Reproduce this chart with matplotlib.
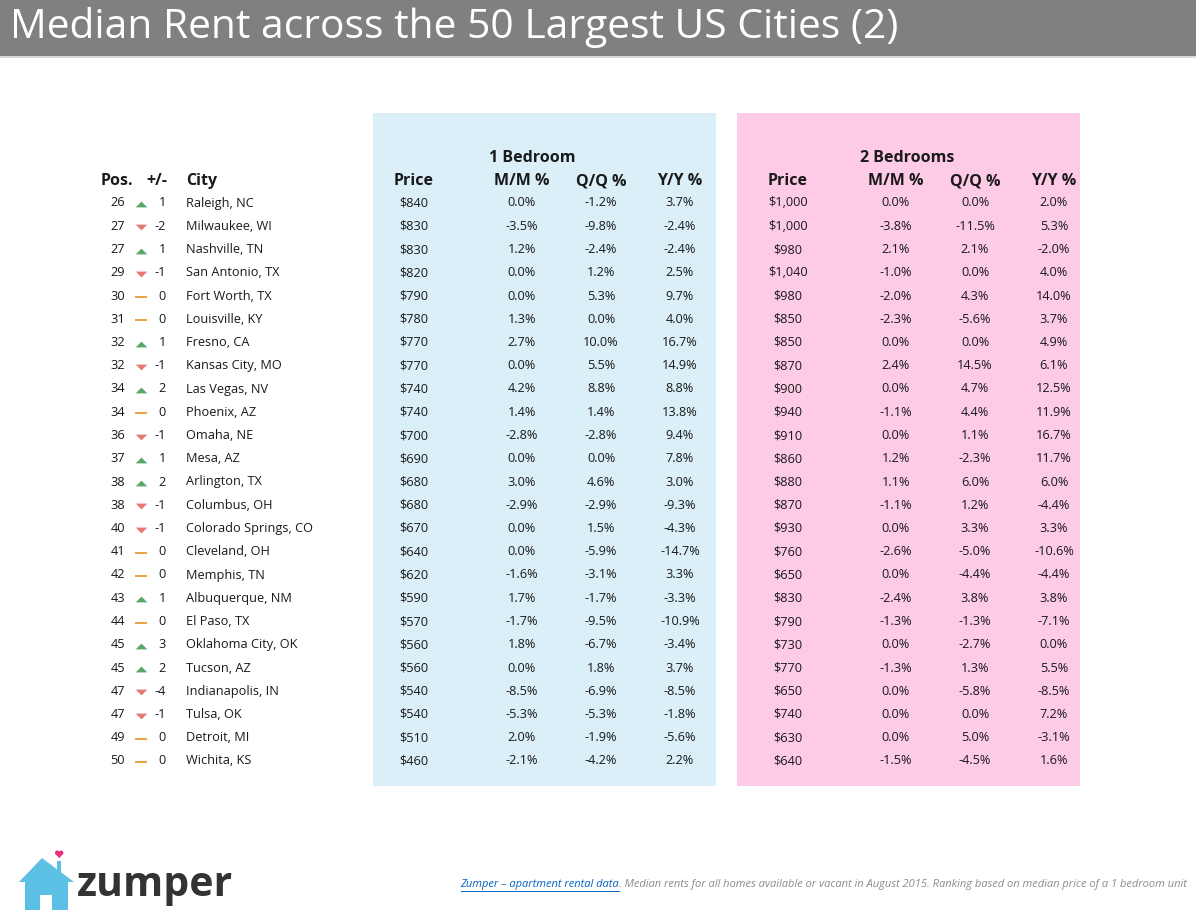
import numpy as np
import matplotlib.pyplot as plt
from matplotlib.patches import Rectangle, Polygon, Circle

plt.rcParams['font.family'] = ['Open Sans', 'DejaVu Sans']

pos = [26, 27, 27, 29, 30, 31, 32, 32, 34, 34, 36, 37, 38, 38, 40, 41, 42, 43, 44, 45, 45, 47, 47, 49, 50]
change = [1, -2, 1, -1, 0, 0, 1, -1, 2, 0, -1, 1, 2, -1, -1, 0, 0, 1, 0, 3, 2, -4, -1, 0, 0]
cities = ['Raleigh, NC', 'Milwaukee, WI', 'Nashville, TN', 'San Antonio, TX', 'Fort Worth, TX',
          'Louisville, KY', 'Fresno, CA', 'Kansas City, MO', 'Las Vegas, NV', 'Phoenix, AZ',
          'Omaha, NE', 'Mesa, AZ', 'Arlington, TX', 'Columbus, OH', 'Colorado Springs, CO',
          'Cleveland, OH', 'Memphis, TN', 'Albuquerque, NM', 'El Paso, TX', 'Oklahoma City, OK',
          'Tucson, AZ', 'Indianapolis, IN', 'Tulsa, OK', 'Detroit, MI', 'Wichita, KS']

price1 = [840, 830, 830, 820, 790, 780, 770, 770, 740, 740, 700, 690, 680, 680, 670, 640, 620, 590, 570, 560, 560, 540, 540, 510, 460]
mm1 = [0.0, -3.5, 1.2, 0.0, 0.0, 1.3, 2.7, 0.0, 4.2, 1.4, -2.8, 0.0, 3.0, -2.9, 0.0, 0.0, -1.6, 1.7, -1.7, 1.8, 0.0, -8.5, -5.3, 2.0, -2.1]
qq1 = [-1.2, -9.8, -2.4, 1.2, 5.3, 0.0, 10.0, 5.5, 8.8, 1.4, -2.8, 0.0, 4.6, -2.9, 1.5, -5.9, -3.1, -1.7, -9.5, -6.7, 1.8, -6.9, -5.3, -1.9, -4.2]
yy1 = [3.7, -2.4, -2.4, 2.5, 9.7, 4.0, 16.7, 14.9, 8.8, 13.8, 9.4, 7.8, 3.0, -9.3, -4.3, -14.7, 3.3, -3.3, -10.9, -3.4, 3.7, -8.5, -1.8, -5.6, 2.2]

price2 = [1000, 1000, 980, 1040, 980, 850, 850, 870, 900, 940, 910, 860, 880, 870, 930, 760, 650, 830, 790, 730, 770, 650, 740, 630, 640]
mm2 = [0.0, -3.8, 2.1, -1.0, -2.0, -2.3, 0.0, 2.4, 0.0, -1.1, 0.0, 1.2, 1.1, -1.1, 0.0, -2.6, 0.0, -2.4, -1.3, 0.0, -1.3, 0.0, 0.0, 0.0, -1.5]
qq2 = [0.0, -11.5, 2.1, 0.0, 4.3, -5.6, 0.0, 14.5, 4.7, 4.4, 1.1, -2.3, 6.0, 1.2, 3.3, -5.0, -4.4, 3.8, -1.3, -2.7, 1.3, -5.8, 0.0, 5.0, -4.5]
yy2 = [2.0, 5.3, -2.0, 4.0, 14.0, 3.7, 4.9, 6.1, 12.5, 11.9, 16.7, 11.7, 6.0, -4.4, 3.3, -10.6, -4.4, 3.8, -7.1, 0.0, 5.5, -8.5, 7.2, -3.1, 1.6]

W, H = 1196, 924
fig = plt.figure(figsize=(W / 100, H / 100), dpi=100)
ax = fig.add_axes([0, 0, 1, 1])
ax.set_xlim(0, W)
ax.set_ylim(H, 0)
ax.axis('off')

# title bar
ax.add_patch(Rectangle((0, 0), W, 56, color='#808080', lw=0))
ax.add_patch(Rectangle((0, 56), W, 2, color='#d9d9d9', lw=0))
ax.text(10, 27, 'Median Rent across the 50 Largest US Cities (2)', color='white',
        fontsize=29.3, va='center', ha='left')

# panels
ax.add_patch(Rectangle((373, 113), 343, 673, color='#daeff7', lw=0))
ax.add_patch(Rectangle((737, 113), 343, 673, color='#fdcbe6', lw=0))

row0, dy = 203, 23.25
rows = row0 + dy * np.arange(len(cities))
hdr_y = 181
txt = dict(fontsize=9.2, va='center', color='#1a1a1a')
hdr = dict(fontsize=11.5, va='center', fontweight='bold', color='#1a1a1a')

ax.text(133, hdr_y, 'Pos.', ha='right', **hdr)
ax.text(167, hdr_y, '+/-', ha='right', **hdr)
ax.text(186, hdr_y, 'City', ha='left', **hdr)

ax.text(532, 158, '1 Bedroom', ha='center', **hdr)
ax.text(907, 158, '2 Bedrooms', ha='center', **hdr)

cols1 = [414, 522, 601, 680]
cols2 = [788, 896, 975, 1054]
heads = ['Price', 'M/M %', 'Q/Q %', 'Y/Y %']
for cx1, cx2, h in zip(cols1, cols2, heads):
    ax.text(cx1, hdr_y, h, ha='center', **hdr)
    ax.text(cx2, hdr_y, h, ha='center', **hdr)

for i, y in enumerate(rows):
    ax.text(125, y, str(pos[i]), ha='right', **txt)
    ax.text(166, y, str(change[i]), ha='right', **txt)
    ax.text(186, y, cities[i], ha='left', **txt)
    vals1 = [f'${price1[i]:,}', f'{mm1[i]:.1f}%', f'{qq1[i]:.1f}%', f'{yy1[i]:.1f}%']
    vals2 = [f'${price2[i]:,}', f'{mm2[i]:.1f}%', f'{qq2[i]:.1f}%', f'{yy2[i]:.1f}%']
    for cx, v in zip(cols1, vals1):
        ax.text(cx, y, v, ha='center', **txt)
    for cx, v in zip(cols2, vals2):
        ax.text(cx, y, v, ha='center', **txt)

# change indicators
chg = np.array(change)
up, down, flat = chg > 0, chg < 0, chg == 0
tri_up = [(-1, -0.5), (1, -0.5), (0, 0.5)]
tri_dn = [(-1, 0.5), (1, 0.5), (0, -0.5)]
bar = [(-1, -0.15), (1, -0.15), (1, 0.15), (-1, 0.15)]
ax.scatter(np.full(up.sum(), 141), rows[up] + 1, marker=tri_up, s=70, color='#5aa865', lw=0)
ax.scatter(np.full(down.sum(), 141), rows[down] + 1, marker=tri_dn, s=70, color='#e57a72', lw=0)
ax.scatter(np.full(flat.sum(), 141), rows[flat] + 1, marker=bar, s=70, color='#e8a545', lw=0)

# logo
house = [(19, 882), (42, 858), (74, 882), (68, 882), (68, 910), (52, 910), (52, 895),
         (40, 895), (40, 910), (25, 910), (25, 882)]
ax.add_patch(Polygon(house, closed=True, color='#5bc0e4', lw=0))
ax.add_patch(Rectangle((57, 861), 4, 13, color='#5bc0e4', lw=0))
heart_c = '#ec2f7b'
ax.add_patch(Circle((57.3, 852.8), 2.3, color=heart_c, lw=0))
ax.add_patch(Circle((61.1, 852.8), 2.3, color=heart_c, lw=0))
ax.add_patch(Polygon([(55.1, 853.6), (63.3, 853.6), (59.2, 858.2)], closed=True, color=heart_c, lw=0))
ax.text(77, 886, 'zumper', fontsize=29.5, fontweight='bold', color='#333333', va='center', ha='left')

# footer
foot_y = 884
fig.canvas.draw()
r = fig.canvas.get_renderer()
rest = ax.text(1187, foot_y, '. Median rents for all homes available or vacant in August 2015. '
               'Ranking based on median price of a 1 bedroom unit', fontsize=8.05, style='italic',
               color='#8c8c8c', ha='right', va='center')
bb = rest.get_window_extent(renderer=r)
x_end = ax.transData.inverted().transform((bb.x0, bb.y0))[0]
link = ax.text(x_end, foot_y, 'Zumper \u2013 apartment rental data', fontsize=8.05, style='italic',
               color='#0563c1', ha='right', va='center')
lb = link.get_window_extent(renderer=r)
lx0 = ax.transData.inverted().transform((lb.x0, lb.y0))[0]
ax.plot([lx0, x_end], [foot_y + 6.5, foot_y + 6.5], color='#0563c1', lw=0.7)

fig.savefig('out.png', dpi=100)
